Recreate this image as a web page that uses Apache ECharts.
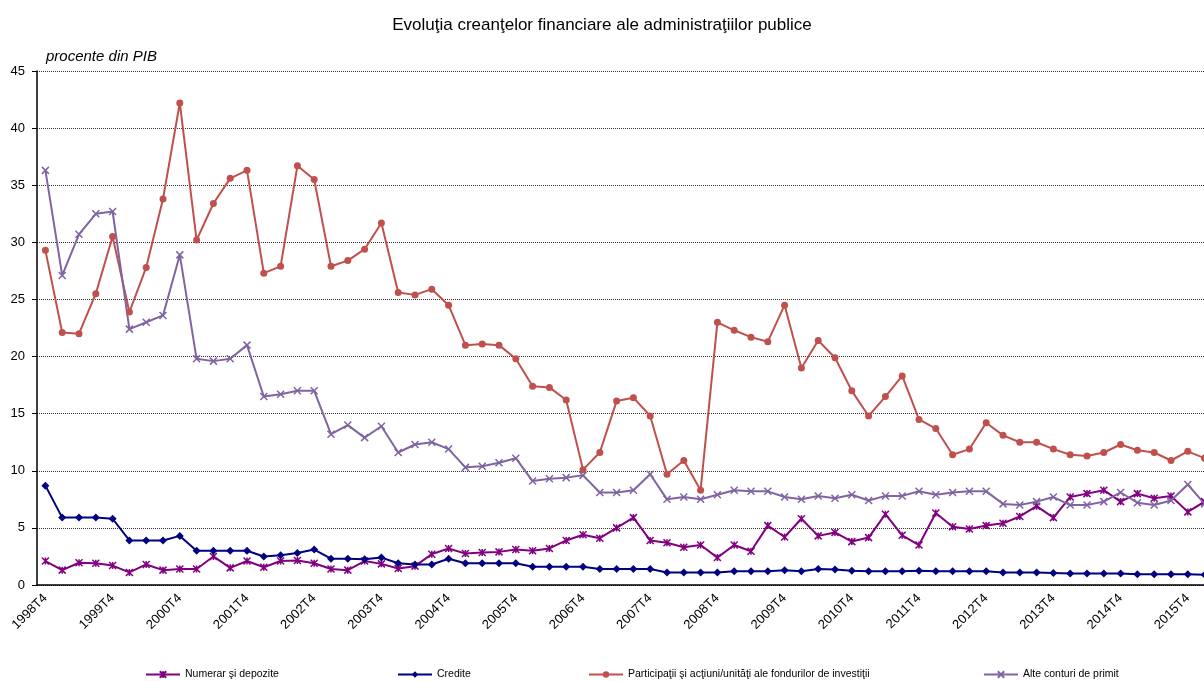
<!DOCTYPE html>
<html><head><meta charset="utf-8">
<script src="https://cdn.jsdelivr.net/npm/echarts@6/dist/echarts.min.js"></script>
<style>html,body{margin:0;padding:0;background:#fff}#c{width:1204px;height:681px}</style>
</head><body><div id="c"></div>
<script>
const categories = [
"1998T4",
"1999T1","1999T2","1999T3","1999T4",
"2000T1","2000T2","2000T3","2000T4",
"2001T1","2001T2","2001T3","2001T4",
"2002T1","2002T2","2002T3","2002T4",
"2003T1","2003T2","2003T3","2003T4",
"2004T1","2004T2","2004T3","2004T4",
"2005T1","2005T2","2005T3","2005T4",
"2006T1","2006T2","2006T3","2006T4",
"2007T1","2007T2","2007T3","2007T4",
"2008T1","2008T2","2008T3","2008T4",
"2009T1","2009T2","2009T3","2009T4",
"2010T1","2010T2","2010T3","2010T4",
"2011T1","2011T2","2011T3","2011T4",
"2012T1","2012T2","2012T3","2012T4",
"2013T1","2013T2","2013T3","2013T4",
"2014T1","2014T2","2014T3","2014T4",
"2015T1","2015T2","2015T3","2015T4",
"2016T1"];

const numerar = [2.1,1.3,1.95,1.9,1.7,1.1,1.8,1.3,1.4,1.4,2.5,1.5,2.1,1.55,2.1,2.15,1.9,1.4,1.3,2.1,1.85,1.45,1.65,2.7,3.2,2.75,2.85,2.9,3.1,3.0,3.2,3.9,4.4,4.1,5.0,5.9,3.9,3.7,3.3,3.5,2.4,3.5,2.95,5.2,4.2,5.8,4.3,4.6,3.8,4.15,6.2,4.35,3.5,6.3,5.1,4.9,5.2,5.4,6.0,6.9,5.9,7.7,8.0,8.3,7.3,8.0,7.6,7.8,6.4,7.3];
const credite = [8.7,5.9,5.9,5.9,5.8,3.9,3.9,3.9,4.3,3.0,3.0,3.0,3.0,2.5,2.6,2.8,3.1,2.3,2.3,2.25,2.4,1.9,1.8,1.8,2.3,1.9,1.9,1.9,1.9,1.6,1.6,1.6,1.6,1.4,1.4,1.4,1.4,1.1,1.1,1.1,1.1,1.2,1.2,1.2,1.3,1.2,1.4,1.35,1.25,1.2,1.2,1.2,1.25,1.2,1.2,1.2,1.2,1.1,1.1,1.1,1.05,1.0,1.0,1.0,1.0,0.95,0.95,0.95,0.95,0.9];
const participatii = [29.3,22.1,22.0,25.5,30.5,23.9,27.8,33.8,42.2,30.2,33.4,35.6,36.3,27.3,27.9,36.7,35.5,27.9,28.4,29.4,31.7,25.6,25.4,25.9,24.5,21.0,21.1,21.0,19.8,17.4,17.3,16.2,10.1,11.6,16.1,16.4,14.8,9.7,10.9,8.3,23.0,22.3,21.7,21.3,24.5,19.0,21.4,19.9,17.0,14.8,16.5,18.3,14.5,13.7,11.4,11.9,14.2,13.1,12.5,12.5,11.9,11.4,11.3,11.6,12.3,11.8,11.6,10.9,11.7,11.1];
const alte = [36.3,27.1,30.7,32.5,32.7,22.4,23.0,23.6,28.9,19.8,19.6,19.8,21.0,16.5,16.7,17.0,17.0,13.2,14.0,12.9,13.9,11.6,12.3,12.5,11.9,10.3,10.4,10.7,11.1,9.1,9.3,9.4,9.6,8.1,8.1,8.3,9.7,7.5,7.7,7.5,7.9,8.3,8.2,8.2,7.7,7.5,7.8,7.6,7.9,7.4,7.8,7.8,8.2,7.9,8.1,8.2,8.2,7.1,7.0,7.3,7.7,7.0,7.0,7.3,8.1,7.2,7.0,7.4,8.8,7.1];

const seriesNames = ["Numerar şi depozite","Credite","Participaţii şi acţiuni/unităţi ale fondurilor de investiţii","Alte conturi de primit"];
const yTicks = [0,5,10,15,20,25,30,35,40,45];

const starPath = 'path://M0,0L10,10M10,0L0,10M5,0L5,10';
const xPath = 'path://M0,0L10,10M10,0L0,10';
const F = '"Liberation Sans", Arial, sans-serif';

const chart = echarts.init(document.getElementById('c'));
function legendAt(name, left){
  return {data:[name], left:left, top:669, itemWidth:34, itemHeight:8, itemGap:0, padding:0,
    textStyle:{fontFamily:F, fontSize:10.5, color:'#000'}};
}
chart.setOption({
  animation:false,
  backgroundColor:'#fff',
  title:[
    {text:'Evoluţia creanţelor financiare ale administraţiilor publice', left:'center', top:12,
     textStyle:{fontFamily:F, fontSize:17, fontWeight:'normal', color:'#000'}},
    {text:'procente din PIB', left:41, top:44,
     textStyle:{fontFamily:F, fontSize:15, fontStyle:'italic', fontWeight:'normal', color:'#000'}}
  ],
  legend:[legendAt(seriesNames[0],145),legendAt(seriesNames[1],397),legendAt(seriesNames[2],588),legendAt(seriesNames[3],983)],
  grid:{left:37, top:71, width:1176, bottom:96, containLabel:false, outerBoundsMode:'none'},
  xAxis:{type:'category', data:categories, boundaryGap:true,
    axisLine:{lineStyle:{color:'#000', width:1.5}},
    axisTick:{interval:0, length:5, lineStyle:{color:'#000'}},
    axisLabel:{interval:3, rotate:45, fontFamily:F, fontSize:13, color:'#000', margin:11}
  },
  yAxis:{type:'value', min:yTicks[0], max:yTicks[yTicks.length-1], interval:5,
    axisLine:{show:true, lineStyle:{color:'#000', width:1.5}},
    axisTick:{show:true, length:5, lineStyle:{color:'#000'}},
    axisLabel:{fontFamily:F, fontSize:13, color:'#000', margin:12},
    splitLine:{lineStyle:{color:'#333', type:[1,1], width:1}}
  },
  series:[
    {name:seriesNames[0], type:'line', data:numerar, symbol:starPath, symbolSize:7,
     lineStyle:{color:'#800080', width:2}, itemStyle:{color:'#800080', borderColor:'#800080', borderWidth:1.5}},
    {name:seriesNames[1], type:'line', data:credite, symbol:'diamond', symbolSize:8,
     lineStyle:{color:'#000080', width:2}, itemStyle:{color:'#000080'}},
    {name:seriesNames[2], type:'line', data:participatii, symbol:'circle', symbolSize:7,
     lineStyle:{color:'#C0504D', width:2}, itemStyle:{color:'#C0504D'}},
    {name:seriesNames[3], type:'line', data:alte, symbol:xPath, symbolSize:7,
     lineStyle:{color:'#8064A2', width:2}, itemStyle:{color:'#8064A2', borderColor:'#8064A2', borderWidth:1.5}}
  ]
});
</script></body></html>
